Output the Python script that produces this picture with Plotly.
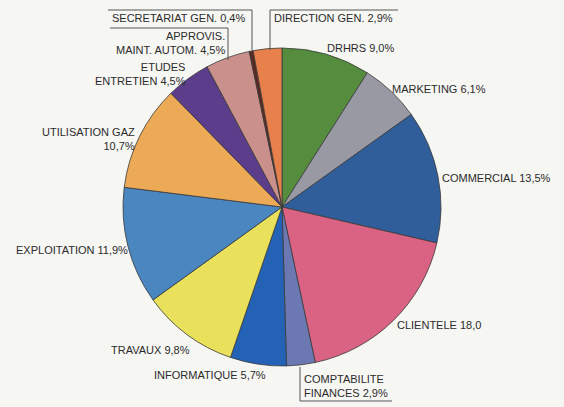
import plotly.graph_objects as go

W, H = 564, 407

services = ["DRHRS", "MARKETING", "COMMERCIAL", "CLIENTELE", "COMPTABILITE FINANCES",
            "INFORMATIQUE", "TRAVAUX", "EXPLOITATION", "UTILISATION GAZ",
            "ETUDES ENTRETIEN", "APPROVIS. MAINT. AUTOM.", "SECRETARIAT GEN.", "DIRECTION GEN."]
parts = [9.0, 6.1, 13.5, 18.0, 2.9, 5.7, 9.8, 11.9, 10.7, 4.5, 4.5, 0.4, 2.9]
label_text = ["DRHRS 9,0%", "MARKETING 6,1%", "COMMERCIAL 13,5%", "CLIENTELE 18,0",
              "COMPTABILITE<br>FINANCES 2,9%", "INFORMATIQUE 5,7%", "TRAVAUX 9,8%",
              "EXPLOITATION 11,9%", "UTILISATION GAZ<br>10,7%", "ETUDES<br>ENTRETIEN 4,5%",
              "APPROVIS.<br>MAINT. AUTOM. 4,5%", "SECRETARIAT GEN. 0,4%", "DIRECTION GEN. 2,9%"]
colors = ["#568c3e", "#9899a3", "#2f5e9a", "#da6282", "#6b78b2", "#2462b6", "#e9e15c",
          "#4a86c0", "#ecaa57", "#5b3d8c", "#c9908c", "#5a2a22", "#e8804c"]

# label anchor positions in pixels (x, y, xanchor)
label_pos = [(325, 48, "left"), (390, 89, "left"), (440, 178, "left"), (395, 325, "left"),
             (302, 386, "left"), (268, 375, "right"), (192, 350, "right"),
             (130, 250, "right"), (137, 139, "right"), (188, 74, "right"),
             (227, 43, "right"), (110, 18, "left"), (272, 18, "left")]


def px(x, y):
    return x / W, 1 - y / H


cx, cy, r = 282, 207, 159
x0, y0 = px(cx - r, cy + r)
x1, y1 = px(cx + r, cy - r)

fig = go.Figure(go.Pie(
    labels=services, values=parts, sort=False, direction="clockwise", rotation=0,
    marker=dict(colors=colors, line=dict(color="#3a3a3a", width=0.8)),
    textinfo="none", hoverinfo="label+value", showlegend=False,
    domain=dict(x=[x0, x1], y=[y0, y1]),
))

for txt, (x, y, anc) in zip(label_text, label_pos):
    ax, ay = px(x, y)
    fig.add_annotation(x=ax, y=ay, xref="paper", yref="paper", text=txt, showarrow=False,
                       xanchor=anc, yanchor="middle", align=anc,
                       font=dict(family="Liberation Sans, Arial", size=11, color="#2b2b2b"))

# leader lines (bracket style) for the narrow slices
leaders = [
    [(108, 10), (252, 10), (252, 50)],
    [(110, 28), (228, 28), (228, 60)],
    [(398, 10), (270, 10), (270, 50)],
    [(300, 367), (300, 401), (392, 401)],
]
for pts in leaders:
    for (xa, ya), (xb, yb) in zip(pts[:-1], pts[1:]):
        pa, qa = px(xa, ya)
        pb, qb = px(xb, yb)
        fig.add_shape(type="line", xref="paper", yref="paper", x0=pa, y0=qa, x1=pb, y1=qb,
                      line=dict(color="#555", width=1))

fig.update_layout(
    width=W, height=H, margin=dict(l=0, r=0, t=0, b=0),
    paper_bgcolor="#f6f6f3", plot_bgcolor="#f6f6f3",
)
fig.write_html("out.html", config={"displayModeBar": False},
               post_script="document.body.style.margin='0';")
